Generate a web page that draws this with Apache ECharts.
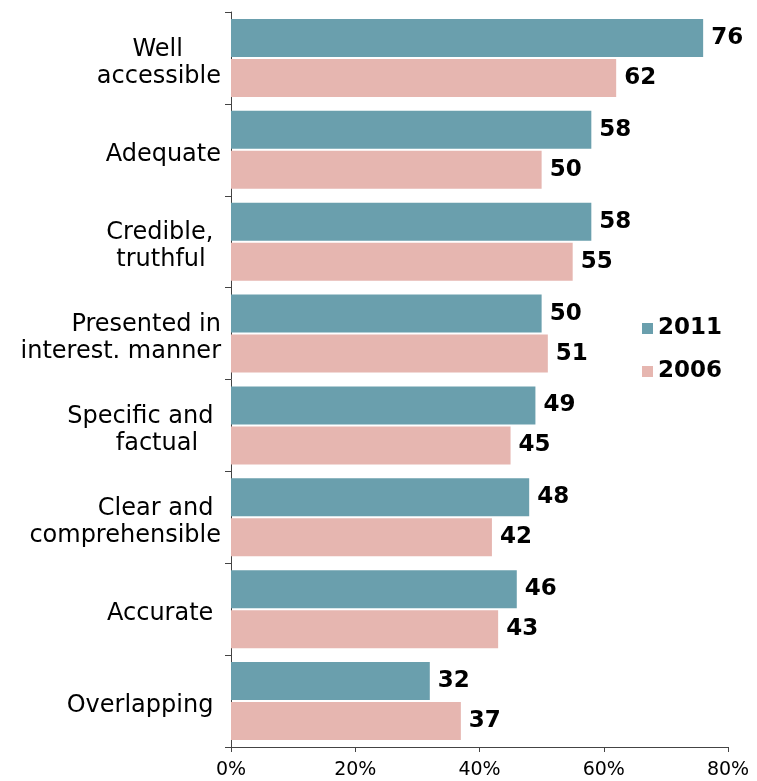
<!DOCTYPE html>
<html>
<head>
<meta charset="utf-8">
<script src="https://cdn.jsdelivr.net/npm/echarts@6/dist/echarts.min.js"></script>
<style>
  html, body { margin: 0; padding: 0; background: #fff; }
  #chart { width: 757px; height: 781px; }
</style>
</head>
<body>
<div id="chart"></div>
<script>
// Survey attributes (top to bottom); trailing spaces keep the wrapped lines set like the original labels
const categories = [
  'Well     \naccessible',
  'Adequate',
  'Credible, \ntruthful  ',
  'Presented in\ninterest. manner',
  'Specific and \nfactual   ',
  'Clear and \ncomprehensible',
  'Accurate ',
  'Overlapping '
];
const seriesNames = ['2011', '2006'];
const values2011 = [76, 58, 58, 50, 49, 48, 46, 32];
const values2006 = [62, 50, 55, 51, 45, 42, 43, 37];
const axisMax = 80;
const axisStep = 20;

const FONT = '"DejaVu Sans", Verdana, sans-serif';
const COLORS = { '2011': '#6a9fad', '2006': '#e6b6b0' };
const AXIS_COLOR = '#444';

const chart = echarts.init(document.getElementById('chart'), null, { renderer: 'canvas' });

function barSeries(name, data) {
  return {
    name: name,
    type: 'bar',
    data: data,
    barGap: '5%',
    barCategoryGap: '15%',
    itemStyle: { color: COLORS[name] },
    label: {
      show: true,
      position: 'right',
      distance: 8,
      fontFamily: FONT,
      fontWeight: 'bold',
      fontSize: 23,
      color: '#000'
    }
  };
}

// One rich style per label line; the block padding sets the labels a little below band centre
const labelLine = {
  fontFamily: FONT,
  fontSize: 24,
  lineHeight: 27,
  color: '#000',
  align: 'right'
};

chart.setOption({
  animation: false,
  backgroundColor: '#fff',
  grid: { left: 231, right: 29, top: 12, bottom: 34, containLabel: false },
  legend: {
    data: seriesNames,
    orient: 'vertical',
    left: 637,
    top: 310,
    icon: 'rect',
    itemWidth: 11,
    itemHeight: 11,
    itemGap: 16,
    textStyle: {
      fontFamily: FONT,
      fontWeight: 'bold',
      fontSize: 23,
      lineHeight: 27,
      color: '#000'
    }
  },
  xAxis: {
    type: 'value',
    min: 0,
    max: axisMax,
    interval: axisStep,
    splitLine: { show: false },
    axisLine: { show: true, lineStyle: { color: AXIS_COLOR, width: 1 } },
    axisTick: { show: true, length: 5, lineStyle: { color: AXIS_COLOR } },
    axisLabel: {
      formatter: '{value}%',
      fontFamily: FONT,
      fontSize: 19,
      color: '#000',
      margin: 14
    }
  },
  yAxis: {
    type: 'category',
    data: categories,
    inverse: true,
    axisLine: { show: true, lineStyle: { color: AXIS_COLOR, width: 1 } },
    axisTick: { show: true, length: 6, lineStyle: { color: AXIS_COLOR } },
    axisLabel: {
      margin: 10,
      align: 'right',
      fontFamily: FONT,
      fontSize: 24,
      lineHeight: 27,
      color: '#000',
      padding: [10, 0, 0, 0],
      formatter: function (value) {
        return value.split('\n')
          .map(function (line) { return '{l|' + line + '}'; })
          .join('\n');
      },
      rich: {
        l: labelLine
      }
    }
  },
  series: [
    barSeries('2011', values2011),
    barSeries('2006', values2006)
  ]
});
</script>
</body>
</html>
